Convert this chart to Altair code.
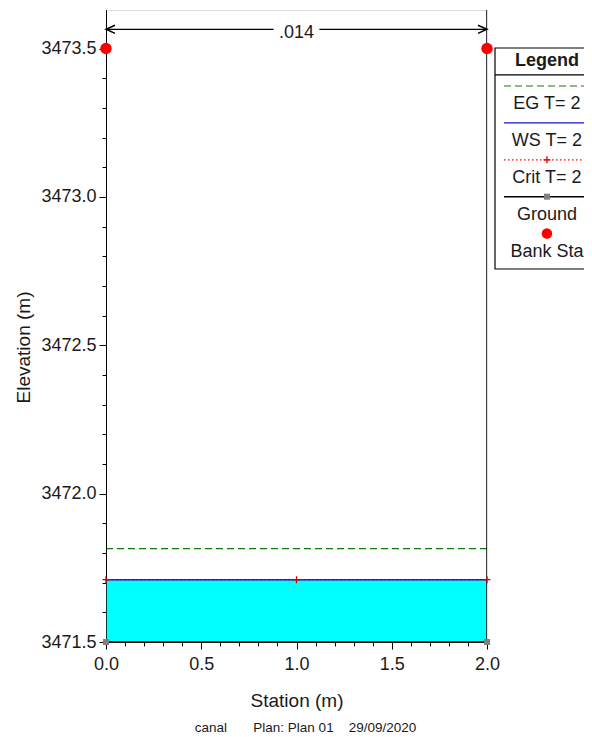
import altair as alt
import pandas as pd

# ---------------- data ----------------
ground_station = [0.0, 0.0, 2.0, 2.0]
ground_elev = [3473.63, 3471.5, 3471.5, 3473.63]
ws_station = [0.0, 2.0]
ws_elev = [3471.71, 3471.71]
eg_elev = [3471.815, 3471.815]
crit_station = [0.0, 1.0, 2.0]
crit_elev = [3471.71, 3471.71, 3471.71]
bank_station = [0.0, 2.0]
bank_elev = [3473.5, 3473.5]
n_label = [".014"]
n_span = [0.0, 2.0]
n_center = [1.0]
n_elev = [3473.565]
legend_labels = ["EG T= 2", "WS T= 2", "Crit T= 2", "Ground", "Bank Sta"]
x_tick_values = [round(0.1 * i, 1) for i in range(21)]
y_tick_values = [round(3471.5 + 0.1 * i, 1) for i in range(21)]
footer_text = "canal" + "\u00a0" * 7 + "Plan: Plan 01" + "\u00a0" * 4 + "29/09/2020"

Y_TOP = 3473.63
FONT = "Liberation Sans"
TXT = "#1a1a1a"
MAJOR = "round(datum.value * 10) % 5 === 0"

xs = alt.Scale(domain=[0, 2], nice=False, zero=False)
ys = alt.Scale(domain=[min(ground_elev), Y_TOP], nice=False, zero=False)

x_axis = alt.Axis(
    values=x_tick_values,
    labelExpr=f"{MAJOR} ? format(datum.value, '.1f') : ''",
    tickSize={"condition": {"test": MAJOR, "value": 7}, "value": 4},
    labelPadding=6, labelFontSize=18, labelFont=FONT, labelColor=TXT,
    labelFlush=False, labelOverlap=False, labelBound=False,
    domainColor="black", domainWidth=1, tickColor="black", tickWidth=1, grid=False,
    title="Station (m)", titleFontSize=19, titleFont=FONT, titleFontWeight="normal",
    titleColor=TXT, titleY=58, titleBaseline="middle",
)
y_axis = alt.Axis(
    values=y_tick_values,
    labelExpr=f"{MAJOR} ? format(datum.value, '.1f') : ''",
    tickSize={"condition": {"test": MAJOR, "value": 7}, "value": 4},
    labelPadding=3, labelFontSize=18, labelFont=FONT, labelColor=TXT,
    labelFlush=False, labelOverlap=False, labelBound=False, labelBaseline="middle",
    domainColor="black", domainWidth=1, tickColor="black", tickWidth=1, grid=False,
    title="Elevation (m)", titleFontSize=19, titleFont=FONT, titleFontWeight="normal",
    titleColor=TXT, titleX=-83, titleY=337, titleAngle=270, titleBaseline="middle",
    titleAlign="center",
)
X = alt.X("sta:Q", scale=xs, axis=x_axis)
Y = alt.Y("elev:Q", scale=ys, axis=y_axis)

ground_df = pd.DataFrame({"sta": ground_station, "elev": ground_elev, "i": list(range(len(ground_station)))})
area_df = pd.DataFrame({"sta": ws_station, "elev": ws_elev, "base": [min(ground_elev)] * len(ws_station)})
eg_df = pd.DataFrame({"sta": ws_station, "elev": eg_elev})
ws_df = pd.DataFrame({"sta": ws_station, "elev": ws_elev})
crit_df = pd.DataFrame({"sta": crit_station, "elev": crit_elev})
bank_df = pd.DataFrame({"sta": bank_station, "elev": bank_elev})

gap = 0.12
n_seg_df = pd.DataFrame({
    "sta": [n_span[0], n_center[0] + gap],
    "sta2": [n_center[0] - gap, n_span[1]],
    "elev": n_elev * 2,
})
n_left_df = pd.DataFrame({"sta": [n_span[0]], "elev": n_elev})
n_right_df = pd.DataFrame({"sta": [n_span[1]], "elev": n_elev})
n_text_df = pd.DataFrame({"sta": n_center, "elev": n_elev, "t": n_label})

area = alt.Chart(area_df).mark_area(color="#00ffff", opacity=1).encode(x=X, y=Y, y2="base:Q")
eg = alt.Chart(eg_df).mark_line(color="#0b7a0b", strokeDash=[7, 4], strokeWidth=1.2).encode(x=X, y=Y)
ws = alt.Chart(ws_df).mark_line(color="#1414d8", strokeWidth=1.4).encode(x=X, y=Y)
crit_line = alt.Chart(crit_df).mark_line(color="#ff0000", strokeDash=[1.5, 2.5], strokeWidth=1.3).encode(x=X, y=Y)
ground_line = alt.Chart(ground_df).mark_line(color="black", strokeWidth=1.5, clip=True).encode(
    x=X, y=Y, order="i:Q")
crit_pts = alt.Chart(crit_df).mark_point(
    shape="M-1,0L1,0M0,-1L0,1", size=49, filled=False, color="#d00000", strokeWidth=1.3, opacity=1
).encode(x=X, y=Y)
ground_pts = alt.Chart(ground_df).transform_filter(f"datum.elev < {Y_TOP}").mark_square(
    color="#808080", size=36, opacity=1).encode(x=X, y=Y)
bank = alt.Chart(bank_df).mark_circle(color="#ff0000", size=130, opacity=1).encode(x=X, y=Y)
n_rules = alt.Chart(n_seg_df).mark_rule(color="black", strokeWidth=1.2).encode(x=X, x2="sta2:Q", y=Y)
n_left = alt.Chart(n_left_df).mark_point(
    shape="M2,-0.9L0,0L2,0.9", size=81, filled=False, color="black", strokeWidth=1.5, opacity=1
).encode(x=X, y=Y)
n_right = alt.Chart(n_right_df).mark_point(
    shape="M-2,-0.9L0,0L-2,0.9", size=81, filled=False, color="black", strokeWidth=1.5, opacity=1
).encode(x=X, y=Y)
n_text = alt.Chart(n_text_df).mark_text(
    font=FONT, fontSize=18, color=TXT, baseline="middle", align="center", dy=4
).encode(x=X, y=Y, text="t:N")

main = alt.layer(area, eg, ws, crit_line, ground_line, crit_pts, ground_pts, bank,
                 n_rules, n_left, n_right, n_text)

# ---------------- custom HEC-RAS style legend ----------------
lxs = alt.Scale(domain=[0, 1], range=[389, 495], nice=False, zero=False)
lys = alt.Scale(domain=[-1.03, 4.96], range=[38, 259], nice=False, zero=False)
LX = alt.X("lx:Q", scale=lxs, axis=None)
LY = alt.Y("ly:Q", scale=lys, axis=None)
LC = 0.49  # legend column centre

rows = list(range(len(legend_labels)))
box = alt.Chart(pd.DataFrame({"lx": [0.0], "lx2": [1.3], "ly": [-1.03], "ly2": [4.96]})).mark_rect(
    fill="white", stroke="black", strokeWidth=1.2).encode(x=LX, x2="lx2:Q", y=LY, y2="ly2:Q")
sep = alt.Chart(pd.DataFrame({"lx": [0.0], "lx2": [1.3], "ly": [-0.3]})).mark_rule(
    color="black", strokeWidth=1.2).encode(x=LX, x2="lx2:Q", y=LY)
header = alt.Chart(pd.DataFrame({"lx": [LC], "ly": [-0.69], "t": ["Legend"]})).mark_text(
    font=FONT, fontSize=18, fontWeight="bold", color=TXT, baseline="middle", align="center"
).encode(x=LX, y=LY, text="t:N")

def sym_line(row, **style):
    df = pd.DataFrame({"lx": [0.085], "lx2": [1.3], "ly": [row]})
    return alt.Chart(df).mark_rule(**style).encode(x=LX, x2="lx2:Q", y=LY)

l_eg = sym_line(rows[0], color="#0b7a0b", strokeDash=[7, 4], strokeWidth=1.2)
l_ws = sym_line(rows[1], color="#1414d8", strokeWidth=1.4)
l_crit = sym_line(rows[2], color="#ff0000", strokeDash=[1.5, 2.5], strokeWidth=1.3)
l_gr = sym_line(rows[3], color="black", strokeWidth=1.5)
s_crit = alt.Chart(pd.DataFrame({"lx": [LC], "ly": [rows[2]]})).mark_point(
    shape="M-1,0L1,0M0,-1L0,1", size=49, filled=False, color="#d00000", strokeWidth=1.3, opacity=1
).encode(x=LX, y=LY)
s_gr = alt.Chart(pd.DataFrame({"lx": [LC], "ly": [rows[3]]})).mark_square(
    color="#808080", size=36, opacity=1).encode(x=LX, y=LY)
s_bank = alt.Chart(pd.DataFrame({"lx": [LC], "ly": [rows[4]]})).mark_circle(
    color="#ff0000", size=110, opacity=1).encode(x=LX, y=LY)
texts = alt.Chart(pd.DataFrame({"lx": [LC] * len(rows), "ly": [r + 0.5 for r in rows],
                                "t": legend_labels})).mark_text(
    font=FONT, fontSize=18, color=TXT, baseline="middle", align="center"
).encode(x=LX, y=LY, text="t:N")

legend = alt.layer(box, sep, header, l_eg, l_ws, l_crit, l_gr, s_crit, s_gr, s_bank, texts)

chart = alt.layer(main, legend).resolve_scale(x="independent", y="independent").properties(
    width=381, height=632,
    autosize=alt.AutoSizeParams(type="none"),
    padding={"left": 98, "top": 2, "right": 97, "bottom": 94},
    title=alt.TitleParams(
        text=footer_text, orient="bottom", anchor="middle", frame="group", baseline="top",
        offset=11, dx=9, fontSize=13.5, fontWeight="normal", font=FONT, color=TXT,
    ),
).configure_view(stroke=None).configure(background="white")

chart.save("out.html", embed_options={"renderer": "svg", "actions": False})
